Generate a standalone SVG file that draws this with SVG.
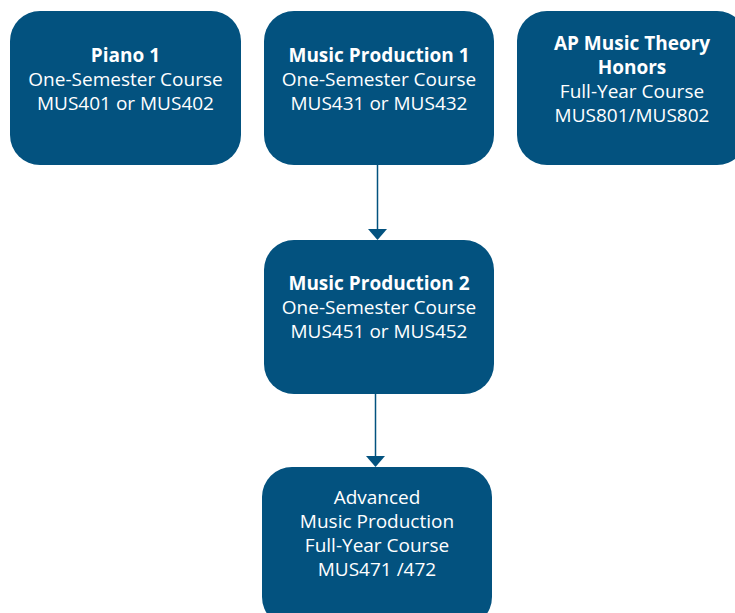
<svg xmlns="http://www.w3.org/2000/svg" width="735" height="613" viewBox="0 0 735 613">
<style>
.n{fill:#03527f}
text{font-family:"Open Sans","Noto Sans","Liberation Sans",sans-serif;font-size:19px;fill:#ffffff;text-anchor:middle}
.b{font-weight:bold}
.c{stroke:#03527f;stroke-width:1.5;fill:none}
.a{fill:#03527f}
</style>
<rect width="735" height="613" fill="#ffffff"/>
<g id="piano1">
<rect class="n" x="10" y="11" width="231" height="154" rx="30"/>
<text x="125.5" y="62"><tspan class="b">Piano 1</tspan><tspan x="125.5" dy="24">One-Semester Course</tspan><tspan x="125.5" dy="24">MUS401 or MUS402</tspan></text>
</g>
<g id="musicprod1">
<rect class="n" x="264" y="11" width="230" height="154" rx="30"/>
<text x="379" y="62"><tspan class="b">Music Production 1</tspan><tspan x="379" dy="24">One-Semester Course</tspan><tspan x="379" dy="24">MUS431 or MUS432</tspan></text>
</g>
<g id="apmusic">
<rect class="n" x="517" y="11" width="230" height="154" rx="30"/>
<text x="632" y="50"><tspan class="b">AP Music Theory</tspan><tspan class="b" x="632" dy="24">Honors</tspan><tspan x="632" dy="24">Full-Year Course</tspan><tspan x="632" dy="24">MUS801/MUS802</tspan></text>
</g>
<g id="musicprod2">
<rect class="n" x="264" y="240" width="230" height="154" rx="30"/>
<text x="379" y="290"><tspan class="b">Music Production 2</tspan><tspan x="379" dy="24">One-Semester Course</tspan><tspan x="379" dy="24">MUS451 or MUS452</tspan></text>
</g>
<g id="advanced">
<rect class="n" x="262" y="467" width="230" height="160" rx="30"/>
<text x="377" y="504"><tspan>Advanced</tspan><tspan x="377" dy="24">Music Production</tspan><tspan x="377" dy="24">Full-Year Course</tspan><tspan x="377" dy="24">MUS471 /472</tspan></text>
</g>
<g id="connectors">
<path d="M377.5,165 L377.5,229" class="c"/>
<path class="a" d="M368,229 L387,229 L377.5,240 Z"/>
<path d="M375.5,394 L375.5,456" class="c"/>
<path class="a" d="M366,456 L385,456 L375.5,467 Z"/>
</g>
</svg>
